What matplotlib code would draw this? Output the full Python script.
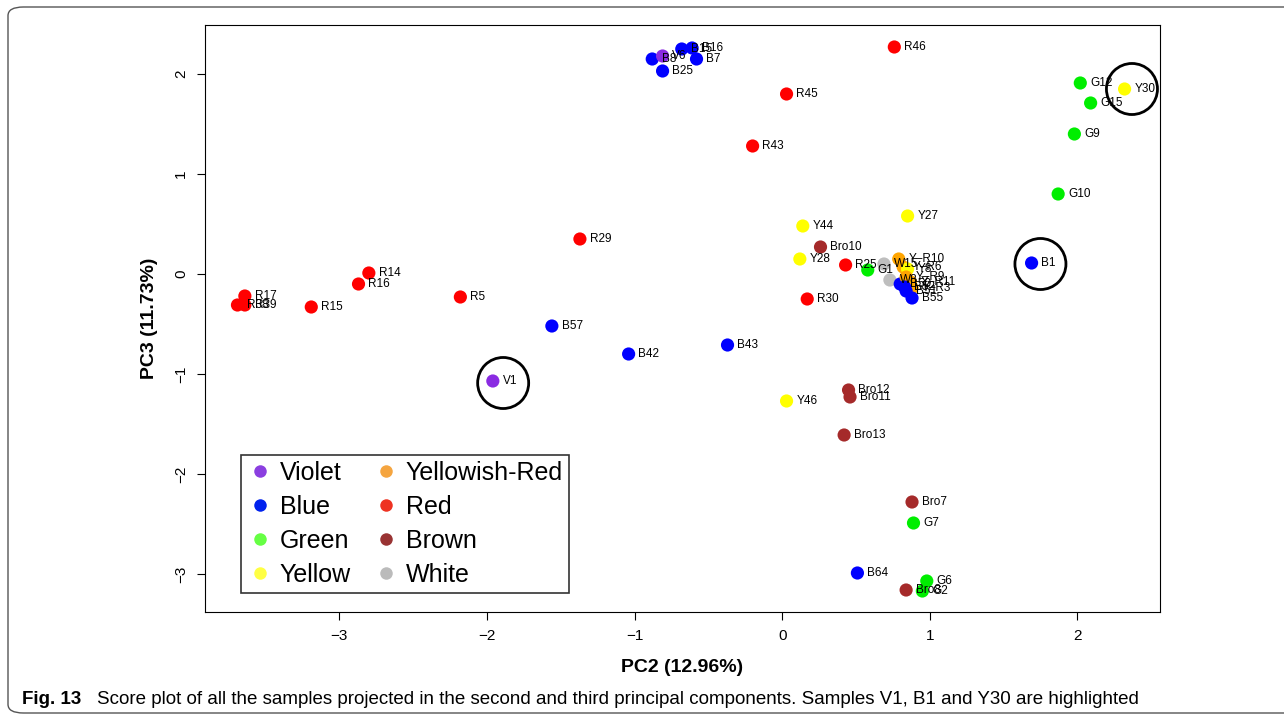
import matplotlib
matplotlib.use("Agg")
import matplotlib.pyplot as plt
from matplotlib.patches import FancyBboxPatch
from matplotlib.lines import Line2D

plt.rcParams['font.family'] = ['Liberation Sans', 'DejaVu Sans']

# sample scores: PC2, PC3, label, colour group
pc2 = [-0.88, -0.81, -0.81, -0.68, -0.61, -0.58, 0.76, 0.03, -0.20,
       2.02, 2.09, 2.32, 1.98, 1.87, 0.85, 0.14, -1.37, 0.26, 0.12,
       0.43, 0.58, 0.69, 0.79, 0.82, 0.85, 0.73, 0.80, 0.84, 0.87,
       0.88, 0.84, 0.88, 0.83,
       -2.80, -2.87, -3.64, -3.64, -3.69, -3.19, -2.18, -1.56, -1.04,
       -0.37, -1.96, 0.17, 1.69, 0.45, 0.46, 0.03, 0.42, 0.88, 0.89,
       0.51, 0.98, 0.84, 0.95]
pc3 = [2.15, 2.18, 2.03, 2.25, 2.26, 2.15, 2.27, 1.80, 1.28,
       1.91, 1.71, 1.85, 1.40, 0.80, 0.58, 0.48, 0.35, 0.27, 0.15,
       0.09, 0.04, 0.10, 0.15, 0.07, 0.05, -0.06, -0.10, -0.03, -0.08,
       -0.14, -0.17, -0.24, -0.13,
       0.01, -0.10, -0.22, -0.31, -0.31, -0.33, -0.23, -0.52, -0.80,
       -0.71, -1.07, -0.25, 0.11, -1.16, -1.23, -1.27, -1.61, -2.28, -2.49,
       -2.99, -3.07, -3.16, -3.17]
labels = ["B8", "V6", "B25", "B15", "B16", "B7", "R46", "R45", "R43",
          "G12", "G15", "Y30", "G9", "G10", "Y27", "Y44", "R29", "Bro10", "Y28",
          "R25", "G1", "W15", "Y\u2013R10", "Y\u2013R6", "Y8", "W8", "B50", "Y\u2013R9", "Y\u2013R11",
          "Y\u2013R3", "B51", "B55", "B52",
          "R14", "R16", "R17", "R39", "R38", "R15", "R5", "B57", "B42",
          "B43", "V1", "R30", "B1", "Bro12", "Bro11", "Y46", "Bro13", "Bro7", "G7",
          "B64", "G6", "Bro8", "G2"]
groups = ["B", "V", "B", "B", "B", "B", "R", "R", "R",
          "G", "G", "Y", "G", "G", "Y", "Y", "R", "Bro", "Y",
          "R", "G", "W", "YR", "YR", "Y", "W", "B", "YR", "YR",
          "YR", "B", "B", "B",
          "R", "R", "R", "R", "R", "R", "R", "B", "B",
          "B", "V", "R", "B", "Bro", "Bro", "Y", "Bro", "Bro", "G",
          "B", "G", "Bro", "G"]

# highlighted samples (circle centres)
hl_pc2 = [-1.89, 1.75, 2.37]
hl_pc3 = [-1.09, 0.10, 1.85]

legend_names = ["Violet", "Blue", "Green", "Yellow",
                "Yellowish-Red", "Red", "Brown", "White"]
legend_keys = ["V", "B", "G", "Y", "YR", "R", "Bro", "W"]

point_col = {"V": "#8a2be2", "B": "#0000ff", "G": "#00ee00", "Y": "#ffff00",
             "YR": "#ffa500", "R": "#ff0000", "Bro": "#a52a2a", "W": "#bebebe"}
legend_col = {"V": "#8b3fe0", "B": "#0022ee", "G": "#66ff44", "Y": "#ffff44",
              "YR": "#f5a540", "R": "#ee3322", "Bro": "#993333", "W": "#bbbbbb"}

fig = plt.figure(figsize=(12.84, 7.23), dpi=100)
ax = fig.add_axes([205/1284, 1 - 612/723, (1160-205)/1284, (612-25)/723])

# rounded frame around figure + caption
frame = FancyBboxPatch((8/1284, 10/723), 1.2, (716-10)/723,
                       boxstyle="round,pad=0,rounding_size=0.012",
                       transform=fig.transFigure, fill=False,
                       edgecolor="#555555", linewidth=1.0, clip_on=False)
fig.patches.append(frame)

for x, y, lab, g in zip(pc2, pc3, labels, groups):
    ax.scatter(x, y, s=90, color=point_col[g], edgecolors="none", zorder=3)
    ax.annotate(lab, (x, y), xytext=(7, 0), textcoords="offset points",
                ha="left", va="center", fontsize=8.5, zorder=4)

ax.scatter(hl_pc2, hl_pc3, s=1350, facecolors="none", edgecolors="black",
           linewidths=2.0, zorder=5)

ax.set_xlim(-3.91, 2.56)
ax.set_ylim(-3.38, 2.49)
ax.set_xticks([-3, -2, -1, 0, 1, 2])
ax.set_yticks([-3, -2, -1, 0, 1, 2])
ax.set_xticklabels(["\u22123", "\u22122", "\u22121", "0", "1", "2"])
ax.set_yticklabels(["\u22123", "\u22122", "\u22121", "0", "1", "2"],
                   rotation=90, va="center")
ax.tick_params(labelsize=11, length=6, width=0.8, pad=6)
for s in ax.spines.values():
    s.set_linewidth(0.8)

ax.set_xlabel("PC2 (12.96%)", fontsize=14, fontweight="bold", labelpad=12)
ax.set_ylabel("PC3 (11.73%)", fontsize=14, fontweight="bold", labelpad=12)

handles = [Line2D([], [], marker="o", linestyle="none", markersize=9,
                  markerfacecolor=legend_col[k], markeredgecolor="none")
           for k in legend_keys]
leg = ax.legend(handles, legend_names, ncol=2, loc="lower left",
                bbox_to_anchor=(36/955, 19/587), borderaxespad=0,
                fontsize=18, frameon=True, fancybox=False, edgecolor="black",
                handletextpad=0.3, columnspacing=0.9, labelspacing=0.4,
                borderpad=0.25, handlelength=1.0)
leg.get_frame().set_linewidth(1.2)

cap_fonts = ["Liberation Sans Narrow", "Liberation Sans", "DejaVu Sans"]
fig.text(22/1284, 1 - 699/723, "Fig. 13", fontsize=13.5, fontweight="bold",
         va="center", ha="left", family=cap_fonts)
fig.text(97/1284, 1 - 699/723,
         "Score plot of all the samples projected in the second and third "
         "principal components. Samples V1, B1 and Y30 are highlighted",
         fontsize=13.5, va="center", ha="left", family=cap_fonts)

fig.savefig("out.png", dpi=100)
